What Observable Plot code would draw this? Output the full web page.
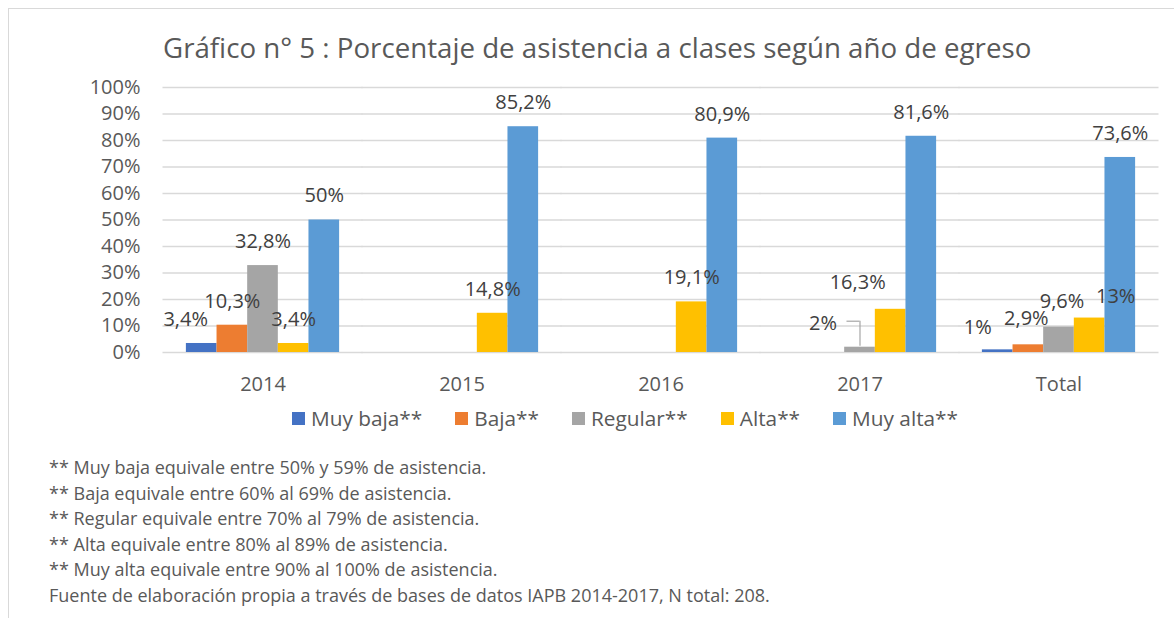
<!DOCTYPE html>
<html>
<head>
<meta charset="utf-8">
<script src="https://cdn.jsdelivr.net/npm/d3@7"></script>
<script src="https://cdn.jsdelivr.net/npm/@observablehq/plot@0.6"></script>
<style>
  html, body { margin: 0; padding: 0; background: #fff; }
  body { width: 1174px; height: 618px; position: relative; overflow: hidden; font-family: "Open Sans", sans-serif; color: #595959; }
  #frame { position: absolute; left: 8px; top: 8px; width: 1200px; height: 700px; border-left: 1px solid #d9d9d9; border-top: 1px solid #d9d9d9; box-sizing: border-box; }
  #title { position: absolute; left: 163px; top: 29px; font-size: 27.7px; line-height: 36px; white-space: nowrap; color: #595959; }
  #chart { position: absolute; left: 0; top: 70px; }
  #legend { position: absolute; left: 292px; top: 405px; height: 26px; display: flex; align-items: center; font-size: 20.8px; white-space: nowrap; }
  #legend .item { display: flex; align-items: center; margin-right: 33px; }
  #legend .sw { width: 13px; height: 13px; margin-right: 6px; }
  #notes { position: absolute; left: 49px; top: 455px; font-size: 18px; line-height: 25.6px; white-space: nowrap; color: #595959; }
</style>
</head>
<body>
<div id="frame"></div>
<div id="title"></div>
<div id="chart"></div>
<div id="legend"></div>
<div id="notes"></div>
<script>
const titleText = "Gráfico n° 5 : Porcentaje de asistencia a clases según año de egreso";
const years = ["2014", "2015", "2016", "2017", "Total"];
const series = ["Muy baja", "Baja", "Regular", "Alta", "Muy alta"];
const legendLabels = ["Muy baja**", "Baja**", "Regular**", "Alta**", "Muy alta**"];
const muyBaja = [3.4, null, null, null, 1];
const baja    = [10.3, null, null, null, 2.9];
const regular = [32.8, null, null, 2, 9.6];
const alta    = [3.4, 14.8, 19.1, 16.3, 13];
const muyAlta = [50, 85.2, 80.9, 81.6, 73.6];
const yTicks = [0, 10, 20, 30, 40, 50, 60, 70, 80, 90, 100];
const colors = ["#4472C4", "#ED7D31", "#A5A5A5", "#FFC000", "#5B9BD5"];
const footnotes = [
  "** Muy baja equivale entre 50% y 59% de asistencia.",
  "** Baja equivale entre 60% al 69% de asistencia.",
  "** Regular equivale entre 70% al 79% de asistencia.",
  "** Alta equivale entre 80% al 89% de asistencia.",
  "** Muy alta equivale entre 90% al 100% de asistencia.",
  "Fuente de elaboración propia a través de bases de datos IAPB 2014-2017, N total: 208."
];

// label nudges (styling only): [dx, dy]
const labelNudges = {
  "2014|Muy baja": [-16, -24],
  "2017|Regular": [-37, -24],
  "2017|Alta": [-33, -27],
  "Total|Muy baja": [-20, -22],
  "Total|Baja": [-2, -26],
  "Total|Regular": [3, -25],
  "Total|Alta": [26, -21]
};
const defaultNudge = [0, -24];

const seriesValues = [muyBaja, baja, regular, alta, muyAlta];
const rows = [];
series.forEach((s, si) => {
  years.forEach((y, yi) => {
    const v = seriesValues[si][yi];
    if (v != null) rows.push({year: y, series: s, value: v / 100, raw: v});
  });
});
const fmt = v => String(v).replace(".", ",") + "%";

const groups = new Map();
rows.forEach(d => {
  const n = labelNudges[d.year + "|" + d.series] || defaultNudge;
  const k = n.join(",");
  if (!groups.has(k)) groups.set(k, {n, data: []});
  groups.get(k).data.push(d);
});
const labelMarks = [...groups.values()].map(g =>
  Plot.text(g.data, {fx: "year", x: "series", y: "value", text: d => fmt(d.raw), dx: g.n[0], dy: g.n[1], fill: "#404040", fontSize: 20})
);

const leader = rows.filter(d => d.year === "2017" && d.series === "Regular");

const W = 1174, ML = 163, MR = 16;
const padInner = 0.23;
const step = (W - ML - MR) / years.length;
const halfGap = step * padInner / 2;

const plot = Plot.plot({
  width: W,
  height: 330,
  marginTop: 17,
  marginBottom: 48,
  marginLeft: ML,
  marginRight: MR,
  style: {fontFamily: "Open Sans", fontSize: "20px", color: "#595959", background: "transparent", overflow: "visible"},
  fx: {domain: years, paddingInner: padInner, paddingOuter: padInner / 2, round: false, label: null},
  x: {domain: series, padding: 0, round: false, axis: null},
  y: {domain: [0, 1], axis: null},
  color: {domain: series, range: colors},
  marks: [
    Plot.ruleY(yTicks, {y: d => d / 100, stroke: "#d9d9d9", strokeWidth: 1.3, insetLeft: -halfGap - 0.5, insetRight: -halfGap - 0.5}),
    Plot.text(yTicks, {fx: () => years[0], y: d => d / 100, text: d => d + "%", frameAnchor: "left", textAnchor: "end", dx: -halfGap - 23, fill: "#595959", fontSize: 20}),
    Plot.barY(rows, {fx: "year", x: "series", y: "value", fill: "series"}),
    Plot.axisFx({anchor: "bottom", tickSize: 0, tickPadding: 24, label: null, fontSize: 20, fill: "#595959"}),
    ...labelMarks,
    Plot.ruleX(leader, {fx: "year", x: "series", y1: "value", y2: "value", insetTop: -26, insetBottom: 1, stroke: "#a6a6a6", strokeWidth: 1.2}),
    Plot.ruleY(leader, {fx: "year", y: "value", x1: "series", x2: "series", dy: -26, insetLeft: 2.3, insetRight: 15.3, stroke: "#a6a6a6", strokeWidth: 1.2})
  ]
});
document.getElementById("chart").appendChild(plot);
document.getElementById("title").textContent = titleText;

const legend = document.getElementById("legend");
series.forEach((s, i) => {
  const it = document.createElement("div");
  it.className = "item";
  const sw = document.createElement("div");
  sw.className = "sw";
  sw.style.background = colors[i];
  const tx = document.createElement("span");
  tx.textContent = legendLabels[i];
  it.appendChild(sw);
  it.appendChild(tx);
  legend.appendChild(it);
});
const notes = document.getElementById("notes");
footnotes.forEach(t => {
  const d = document.createElement("div");
  d.textContent = t;
  notes.appendChild(d);
});
</script>
</body>
</html>
